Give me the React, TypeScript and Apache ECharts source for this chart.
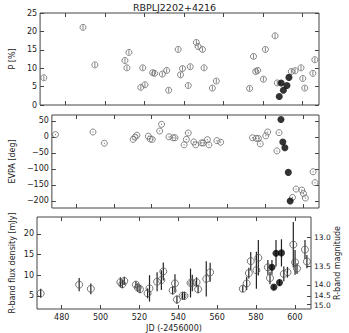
import React, { useEffect, useRef } from "react";
import * as echarts from "echarts";

const title = "RBPLJ2202+4216";

// Open-symbol observations
const jdOpen = [469.2, 489.0, 495.0, 510.2, 511.2, 512.2, 518.2, 519.2, 520.3, 524.2, 525.2, 529.1, 531.3, 532.3, 537.1, 538.3, 539.3, 542.2, 543.2, 546.3, 547.2, 549.4, 550.2, 554.4, 556.4, 573.2, 575.2, 576.3, 577.3, 580.2, 581.2, 586.1, 587.2, 594.3, 596.2, 599.2, 600.1, 601.1, 605.2, 606.2];
const pOpen = [7.4, 21.1, 10.9, 12.1, 10.1, 14.3, 4.8, 10.1, 5.5, 8.8, 8.6, 8.4, 9.4, 4.0, 15.1, 8.2, 9.9, 5.3, 10.4, 17.0, 15.9, 15.1, 10.1, 4.6, 6.5, 4.5, 13.2, 9.1, 9.4, 7.0, 15.1, 18.8, 6.0, 9.1, 9.3, 10.1, 7.2, 4.6, 8.6, 12.3];
const evpaOpen = [7, 15, -20, -8, -1, 5, 2, -7, -8, 18, 39, 0, -3, -3, -25, -8, 12, -16, -25, -19, -19, -9, -25, -12, -17, -3, -5, -5, -22, 3, 15, -44, 13, -189, -163, -166, -177, -191, -109, -143];
const fluxOpen = [5.6, 7.7, 6.7, 8.3, 7.8, 8.6, 7.7, 7.0, 6.6, 5.6, 6.8, 8.4, 8.8, 10.9, 6.3, 8.0, 4.1, 5.0, 5.0, 8.1, 8.1, 8.3, 6.6, 9.1, 10.7, 6.7, 8.0, 10.5, 13.4, 11.2, 14.2, 11.9, 9.3, 10.3, 10.7, 17.4, 13.1, 11.6, 16.2, 13.3];
const fluxErrOpen = [1.1, 1.6, 1.3, 1.2, 1.0, 1.0, 0.8, 1.0, 1.0, 1.2, 3.2, 2.3, 2.4, 2.2, 1.0, 2.2, 1.0, 1.0, 1.0, 3.5, 2.0, 1.2, 1.0, 4.3, 2.3, 0.8, 1.6, 1.3, 2.2, 4.5, 4.3, 1.8, 1.5, 1.8, 1.3, 5.5, 3.0, 1.3, 2.3, 1.6];

// Filled-symbol observations
const jdFilled = [588.2, 589.2, 590.3, 592.1, 593.1];
const pFilled = [2.3, 6.0, 4.0, 5.3, 7.5];
const evpaFilled = [54, -16, -34, -111, -200];
const fluxFilled = [11.9, 7.1, 15.3, 8.2, 15.4];
const fluxErrFilled = [1.8, 0.6, 3.2, 0.8, 3.3];

const pErr = 0.6;
const evpaErr = 2;

// Tick labels
const xTicks = [480, 500, 520, 540, 560, 580, 600];
const pTicks = [0, 5, 10, 15, 20, 25];
const evpaTicks = [-200, -150, -100, -50, 0, 50];
const fluxTicks = [5, 10, 15, 20];
const magTicks = [13.0, 13.5, 14.0, 14.5, 15.0];
const fluxAtMag13 = 19.2;

const X_MIN = 467.3;
const X_MAX = 608.3;

const FONT = "DejaVu Sans";
const FRAME = "#444";
const TXT = "#222";

const magToFlux = (m: number) => fluxAtMag13 * Math.pow(10, -0.4 * (m - 13));
const fmtMinus = (v: number) => String(v).replace("-", "\u2212");

export default function App() {
  const ref = useRef<HTMLDivElement>(null);
  useEffect(() => {
    if (!ref.current) return;
    const chart = echarts.init(ref.current, null, { renderer: "svg" });

    const grids = [
      { left: 31, width: 288, top: 13, height: 92 },
      { left: 31, width: 288, top: 115, height: 93 },
      { left: 31, width: 288, top: 217, height: 93 },
    ];
    const yRanges = [
      { min: 0, max: 25, ticks: pTicks, name: "P [%]", gap: 21 },
      { min: -222, max: 68, ticks: evpaTicks, name: "EVPA [deg]", gap: 24 },
      { min: 1.8, max: 24.1, ticks: fluxTicks, name: "R-band flux density [mJy]", gap: 21 },
    ];
    const magVals = magTicks.map(magToFlux);

    const tickStyle = { color: FRAME, width: 1 };
    const noLine = { show: false, onZero: false };
    const xAxis: any[] = [];
    const yAxis: any[] = [];
    grids.forEach((_, g) => {
      xAxis.push({
        type: "value", gridIndex: g, min: X_MIN, max: X_MAX, position: "bottom",
        axisLine: noLine,
        axisTick: { show: true, inside: true, length: 4, customValues: xTicks, lineStyle: tickStyle },
        axisLabel: { show: g === 2, customValues: xTicks, fontSize: 8, color: TXT, fontFamily: FONT, margin: 4 },
        splitLine: { show: false },
        name: g === 2 ? "JD (-2456000)" : "", nameLocation: "middle", nameGap: 15,
        nameTextStyle: { fontSize: 8, color: TXT, fontFamily: FONT },
      });
      xAxis.push({
        type: "value", gridIndex: g, min: X_MIN, max: X_MAX, position: "top",
        axisLine: noLine,
        axisTick: { show: true, inside: true, length: 4, customValues: xTicks, lineStyle: tickStyle },
        axisLabel: { show: false, customValues: xTicks },
        splitLine: { show: false },
      });
      const r = yRanges[g];
      yAxis.push({
        type: "value", gridIndex: g, min: r.min, max: r.max, position: "left",
        axisLine: noLine,
        axisTick: { show: true, inside: true, length: 4, customValues: r.ticks, lineStyle: tickStyle },
        axisLabel: {
          show: g < 2, customValues: r.ticks, fontSize: 8, color: TXT, fontFamily: FONT, margin: 3,
          formatter: (v: number) => fmtMinus(v),
        },
        splitLine: { show: false },
        name: r.name, nameLocation: "middle", nameRotate: 90, nameGap: r.gap,
        nameTextStyle: { fontSize: 8, color: TXT, fontFamily: FONT },
      });
      if (g < 2) {
        yAxis.push({
          type: "value", gridIndex: g, min: r.min, max: r.max, position: "right",
          axisLine: noLine,
          axisTick: { show: true, inside: true, length: 4, customValues: r.ticks, lineStyle: tickStyle },
          axisLabel: { show: false, customValues: r.ticks },
          splitLine: { show: false },
        });
      } else {
        yAxis.push({
          type: "value", gridIndex: g, min: r.min, max: r.max, position: "right",
          axisLine: noLine,
          axisTick: { show: true, inside: true, length: 4, customValues: magVals, lineStyle: tickStyle },
          axisLabel: { show: false, customValues: magVals },
          splitLine: { show: false },
          name: "R-band magnitude", nameLocation: "middle", nameRotate: 90, nameGap: 22,
          nameTextStyle: { fontSize: 8, color: TXT, fontFamily: FONT },
        });
      }
    });

    const errSeries = (g: number, data: number[][], width: number, color: string) => ({
      type: "custom",
      xAxisIndex: 2 * g, yAxisIndex: 2 * g,
      data,
      z: 1,
      renderItem: (_p: any, api: any) => {
        const x = api.value(0), y = api.value(1), e = api.value(2);
        const a = api.coord([x, y - e]);
        const b = api.coord([x, y + e]);
        return { type: "line", shape: { x1: a[0], y1: a[1], x2: b[0], y2: b[1] }, style: { stroke: color, lineWidth: width } };
      },
    });
    const openSeries = (g: number, data: number[][], size: number, color: string) => ({
      type: "scatter", xAxisIndex: 2 * g, yAxisIndex: 2 * g, data, symbol: "circle", symbolSize: size, z: 2,
      itemStyle: { color: "rgba(0,0,0,0)", borderColor: color, borderWidth: 1 },
    });
    const filledSeries = (g: number, data: number[][], size: number) => ({
      type: "scatter", xAxisIndex: 2 * g, yAxisIndex: 2 * g, data, symbol: "circle", symbolSize: size, z: 3,
      itemStyle: { color: "#000", borderColor: "#000", borderWidth: 0 },
    });
    // tick labels of the bottom panel, placed through the axis scales;
    // labels closer than minGap are nudged apart a little so they do not collide
    const tickLabelSeries = (data: number[][], texts: string[], side: "left" | "right", size: number) => {
      const minGap = 10;
      return {
        type: "custom",
        xAxisIndex: 4, yAxisIndex: 4,
        data,
        clip: false,
        silent: true,
        z: 5,
        renderItem: (params: any, api: any) => {
          const i = params.dataIndex;
          const p = api.coord([data[i][0], data[i][1]]);
          let dy = 0;
          if (i > 0) {
            const q = api.coord([data[i - 1][0], data[i - 1][1]]);
            const d = Math.abs(p[1] - q[1]);
            if (d < minGap) dy += (Math.sign(p[1] - q[1]) * (minGap - d)) / 2;
          }
          if (i < data.length - 1) {
            const q = api.coord([data[i + 1][0], data[i + 1][1]]);
            const d = Math.abs(p[1] - q[1]);
            if (d < minGap) dy += (Math.sign(p[1] - q[1]) * (minGap - d)) / 2;
          }
          return {
            type: "text",
            x: side === "left" ? p[0] - 3 : p[0] + 3,
            y: p[1] + dy,
            style: {
              text: texts[i],
              align: side === "left" ? "right" : "left",
              verticalAlign: "middle",
              fontSize: size,
              lineHeight: size,
              fill: TXT,
              fontFamily: FONT,
            },
          };
        },
      };
    };

    const pO = jdOpen.map((x, i) => [x, pOpen[i]]);
    const pF = jdFilled.map((x, i) => [x, pFilled[i]]);
    const eO = jdOpen.map((x, i) => [x, evpaOpen[i]]);
    const eF = jdFilled.map((x, i) => [x, evpaFilled[i]]);
    const fO = jdOpen.map((x, i) => [x, fluxOpen[i]]);
    const fF = jdFilled.map((x, i) => [x, fluxFilled[i]]);

    chart.setOption({
      animation: false,
      backgroundColor: "#fff",
      title: { text: title, left: "center", top: 2, padding: 0, textStyle: { fontSize: 9.5, fontWeight: "normal", color: TXT, fontFamily: FONT } },
      grid: grids.map((gr) => ({ ...gr, show: true, borderColor: FRAME, borderWidth: 1, backgroundColor: "transparent" })),
      xAxis,
      yAxis,
      series: [
        errSeries(0, jdOpen.map((x, i) => [x, pOpen[i], pErr]), 0.8, "#666"),
        openSeries(0, pO, 6, "#666"),
        filledSeries(0, pF, 7),
        errSeries(1, jdOpen.map((x, i) => [x, evpaOpen[i], evpaErr]), 0.8, "#666"),
        openSeries(1, eO, 6, "#666"),
        filledSeries(1, eF, 7),
        errSeries(2, jdOpen.map((x, i) => [x, fluxOpen[i], fluxErrOpen[i]]), 1.2, "#222"),
        errSeries(2, jdFilled.map((x, i) => [x, fluxFilled[i], fluxErrFilled[i]]), 1.2, "#222"),
        openSeries(2, fO, 7, "#555"),
        filledSeries(2, fF, 7),
        tickLabelSeries(fluxTicks.map((v) => [X_MIN, v]), fluxTicks.map((v) => String(v)), "left", 8),
        tickLabelSeries(magVals.map((v) => [X_MAX, v]), magTicks.map((m) => m.toFixed(1)), "right", 7.5),
      ],
    });
    return () => chart.dispose();
  }, []);
  return <div ref={ref} style={{ position: "absolute", left: 0, top: 0, width: 349, height: 333 }} />;
}
